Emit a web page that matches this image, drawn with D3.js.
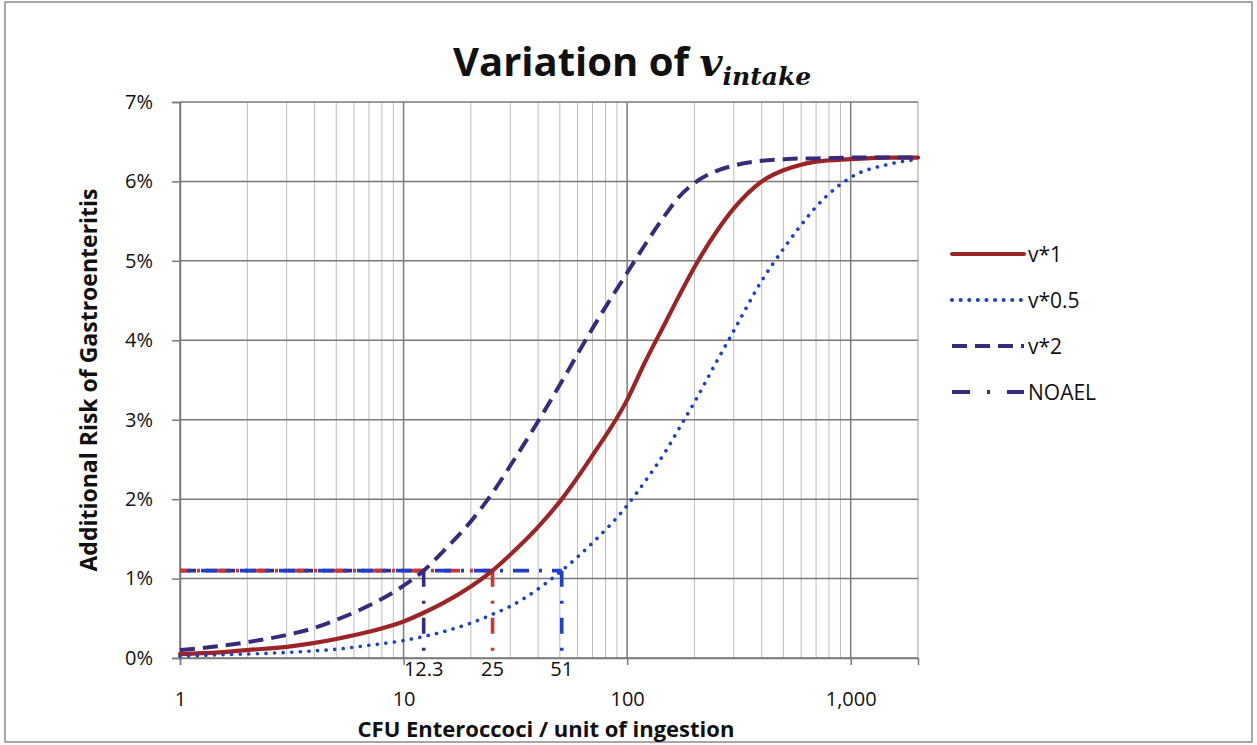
<!DOCTYPE html>
<html>
<head>
<meta charset="utf-8">
<script src="https://cdn.jsdelivr.net/npm/d3@7"></script>
<style>
  body { margin: 0; background: #fff; }
  text { font-family: "Open Sans", "Liberation Sans", sans-serif; fill: #111; }
</style>
</head>
<body>
<script>
// 描画領域の大きさ
var width = 1257, height = 745;
var margin = { top: 102, right: 339, bottom: 87, left: 180 };

// データ (図から読み取った値, %表示)
var doses = [1, 1.5, 2, 3, 4, 5, 7, 10, 12.3, 15, 20, 25, 30, 40, 51, 70, 100, 120, 150, 170, 200, 250, 300, 400, 500, 600, 700, 1000, 1500, 2000];
var riskV1 = [0.05, 0.07, 0.10, 0.14, 0.19, 0.24, 0.33, 0.46, 0.57, 0.69, 0.90, 1.10, 1.30, 1.65, 2.00, 2.55, 3.25, 3.72, 4.25, 4.55, 4.92, 5.36, 5.66, 6.00, 6.14, 6.21, 6.25, 6.28, 6.30, 6.30];
var riskV05 = [0.02, 0.04, 0.05, 0.07, 0.09, 0.11, 0.16, 0.22, 0.27, 0.33, 0.44, 0.55, 0.65, 0.87, 1.10, 1.45, 1.92, 2.22, 2.62, 2.88, 3.22, 3.72, 4.12, 4.75, 5.15, 5.45, 5.68, 6.05, 6.22, 6.28];
var riskV2 = [0.10, 0.15, 0.20, 0.29, 0.38, 0.48, 0.66, 0.91, 1.10, 1.34, 1.72, 2.08, 2.42, 2.98, 3.48, 4.15, 4.85, 5.20, 5.60, 5.80, 5.98, 6.13, 6.20, 6.26, 6.28, 6.29, 6.29, 6.30, 6.30, 6.30];
var noaelRisk = 1.1;
var noaelDoses = [12.3, 25, 51];
var yTicks = [0, 1, 2, 3, 4, 5, 6, 7];
var xTicks = [1, 10, 100, 1000];

var series = [
  { name: "v*1",   values: riskV1,  color: "#9c2426", dash: null,      cap: "round", w: 4.2 },
  { name: "v*0.5", values: riskV05, color: "#1f3fc8", dash: "0.1 8.5", cap: "round", w: 3.6 },
  { name: "v*2",   values: riskV2,  color: "#3a2a7e", dash: "15 8",    cap: "butt",  w: 4 }
];
var noaelColors = ["#3a2a7e", "#d0342c", "#1f3fc8"];

var svg = d3.select("body").append("svg")
  .attr("width", width)
  .attr("height", height);

// 外枠
svg.append("rect")
  .attr("x", 5).attr("y", 2)
  .attr("width", 1247).attr("height", 740)
  .attr("fill", "none")
  .attr("stroke", "#8a8a8a")
  .attr("stroke-width", 1.5);

var pw = width - margin.left - margin.right;
var ph = height - margin.top - margin.bottom;

var x = d3.scaleLog().domain([1, 2000]).range([margin.left, margin.left + pw]);
var y = d3.scaleLinear().domain([0, 7]).range([margin.top + ph, margin.top]);

// グリッド (縦: 対数の補助線)
var minor = [];
[1, 10, 100, 1000].forEach(function(d){
  for(var i = 1; i < 10; i++){
    if(d * i <= 2000) minor.push(d * i);
  }
});
minor.push(2000);
svg.append("g").selectAll("line")
  .data(minor)
  .enter().append("line")
  .attr("x1", function(d){ return x(d); })
  .attr("x2", function(d){ return x(d); })
  .attr("y1", y(0)).attr("y2", y(7))
  .attr("stroke", function(d){ return xTicks.indexOf(d) >= 0 ? "#7a7a7a" : "#bdbdbd"; })
  .attr("stroke-width", function(d){ return xTicks.indexOf(d) >= 0 ? 1.5 : 1; });

// グリッド (横)
svg.append("g").selectAll("line")
  .data(yTicks)
  .enter().append("line")
  .attr("x1", x(1)).attr("x2", x(2000))
  .attr("y1", function(d){ return y(d); })
  .attr("y2", function(d){ return y(d); })
  .attr("stroke", "#7a7a7a")
  .attr("stroke-width", 1.5);

// 軸
var yAxis = svg.append("g")
  .attr("transform", "translate(" + margin.left + ",0)")
  .call(d3.axisLeft(y).tickValues(yTicks).tickSize(8).tickPadding(19)
    .tickFormat(function(d){ return d + "%"; }));
yAxis.selectAll("text").style("font-size", "20px");

var xAxis = svg.append("g")
  .attr("transform", "translate(0," + y(0) + ")")
  .call(d3.axisBottom(x).tickValues(xTicks).tickSize(7).tickPadding(27)
    .tickFormat(d3.format(",")));
xAxis.selectAll("text").style("font-size", "20px");

[yAxis, xAxis].forEach(function(a){
  a.select(".domain").attr("stroke", "#7a7a7a").attr("stroke-width", 1.5);
  a.selectAll(".tick line").attr("stroke", "#7a7a7a").attr("stroke-width", 1.5);
});

// NOAEL の補助線 (横 → 縦)
var noaelG = svg.append("g");
noaelDoses.forEach(function(d, i){
  noaelG.append("line")
    .attr("x1", x(1)).attr("x2", x(d))
    .attr("y1", y(noaelRisk)).attr("y2", y(noaelRisk))
    .attr("stroke", noaelColors[i])
    .attr("stroke-width", 3.6)
    .attr("stroke-dasharray", "16 10 3 10")
    .attr("stroke-dashoffset", i * 9);
});
noaelDoses.forEach(function(d, i){
  noaelG.append("line")
    .attr("x1", x(d)).attr("x2", x(d))
    .attr("y1", y(noaelRisk)).attr("y2", y(0))
    .attr("stroke", noaelColors[i])
    .attr("stroke-width", 3.6)
    .attr("stroke-dasharray", "16 14 3 14");
});

// 曲線
var line = d3.line()
  .x(function(d){ return x(d[0]); })
  .y(function(d){ return y(d[1]); })
  .curve(d3.curveMonotoneX);

series.forEach(function(s){
  svg.append("path")
    .datum(doses.map(function(d, i){ return [d, s.values[i]]; }))
    .attr("d", line)
    .attr("fill", "none")
    .attr("stroke", s.color)
    .attr("stroke-width", s.w)
    .attr("stroke-linecap", s.cap)
    .attr("stroke-dasharray", s.dash);
});

// NOAEL の値ラベル
svg.append("g").selectAll("text")
  .data(noaelDoses)
  .enter().append("text")
  .attr("x", function(d){ return x(d); })
  .attr("y", y(0) + 18)
  .attr("text-anchor", "middle")
  .style("font-size", "20px")
  .text(function(d){ return d; });

// 凡例
var legendItems = [
  { name: "v*1",   color: "#9c2426", dash: null,          cap: "round" },
  { name: "v*0.5", color: "#1f3fc8", dash: "0.1 8.5",     cap: "round" },
  { name: "v*2",   color: "#3a2a7e", dash: "15 8",        cap: "butt" },
  { name: "NOAEL", color: "#3a2a7e", dash: "18 17 3 17",  cap: "butt" }
];
var legend = svg.append("g").attr("transform", "translate(952,254)");
legendItems.forEach(function(d, i){
  var g = legend.append("g").attr("transform", "translate(0," + (i * 46) + ")");
  g.append("line")
    .attr("x1", 0).attr("x2", 72)
    .attr("stroke", d.color)
    .attr("stroke-width", 4)
    .attr("stroke-linecap", d.cap)
    .attr("stroke-dasharray", d.dash);
  g.append("text")
    .attr("x", 76).attr("y", 7.5)
    .style("font-size", "21px")
    .text(d.name);
});

// タイトル
var title = svg.append("text")
  .attr("x", 453).attr("y", 76)
  .style("font-size", "40px")
  .style("font-weight", "bold");
title.append("tspan").text("Variation of ");
title.append("tspan")
  .style("font-family", "'DejaVu Serif', serif")
  .style("font-style", "italic")
  .text("v");
title.append("tspan")
  .attr("dy", 9)
  .style("font-family", "'DejaVu Serif', serif")
  .style("font-style", "italic")
  .style("font-size", "25px")
  .text("intake");

// 軸ラベル
svg.append("text")
  .attr("x", 546)
  .attr("y", 737)
  .attr("text-anchor", "middle")
  .style("font-size", "22px")
  .style("font-weight", "bold")
  .text("CFU Enteroccoci / unit of ingestion");

svg.append("text")
  .attr("transform", "translate(97,380) rotate(-90)")
  .attr("text-anchor", "middle")
  .style("font-size", "23px")
  .style("font-weight", "bold")
  .text("Additional Risk of Gastroenteritis");
</script>
</body>
</html>
